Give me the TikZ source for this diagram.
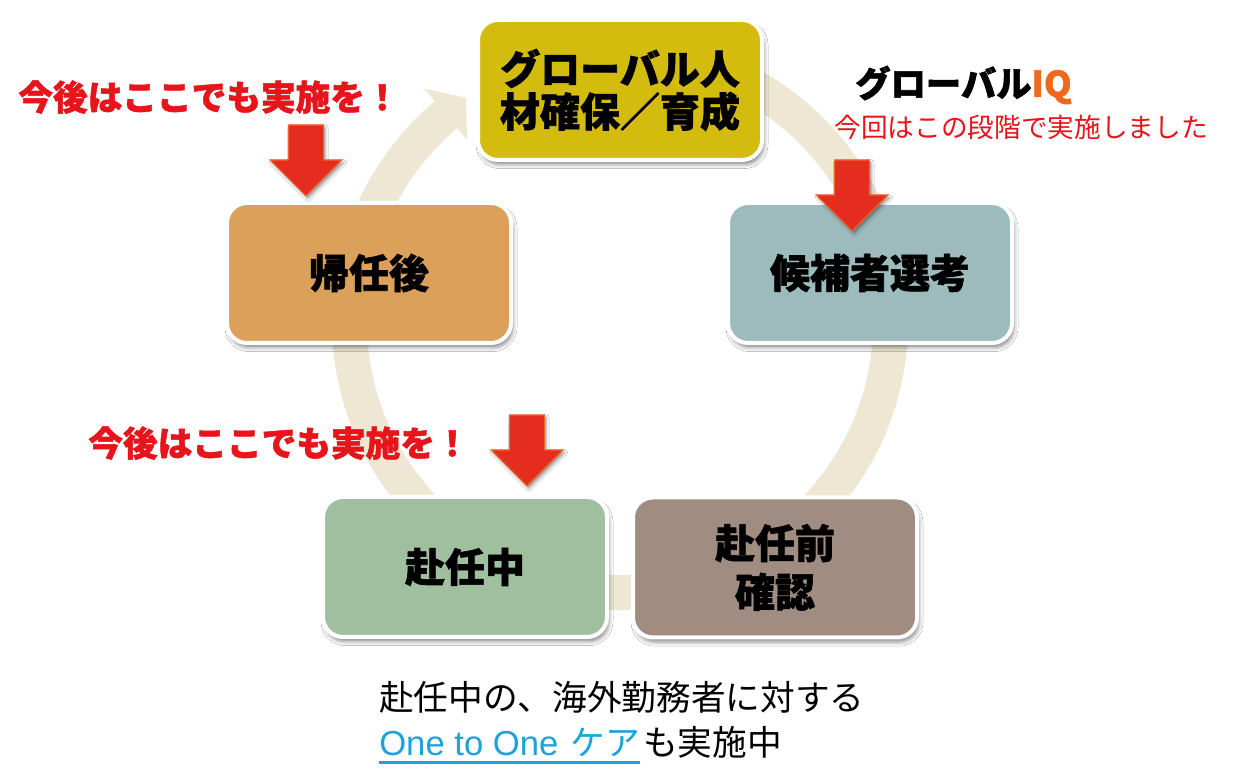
\documentclass[tikz,border=0pt]{standalone}
\usepackage{fontspec}
\setmainfont{Noto Sans CJK JP}[BoldFeatures={FakeBold=1.5}]
\newfontfamily\latinsans{Liberation Sans}
\usetikzlibrary{shadows.blur,calc}
\definecolor{ringc}{HTML}{EEE7D4}
\definecolor{topc}{HTML}{D4BC0E}
\definecolor{rightc}{HTML}{9DBABD}
\definecolor{leftc}{HTML}{DBA15B}
\definecolor{blc}{HTML}{A0BF9E}
\definecolor{brc}{HTML}{A08C81}
\definecolor{arrred}{HTML}{E42C1F}
\definecolor{arredge}{HTML}{F0642A}
\definecolor{txtred}{HTML}{E8141C}
\definecolor{iqorange}{HTML}{EE6A1A}
\definecolor{linkblue}{HTML}{1CA3DB}
\tikzset{
  stage/.style={draw=white, line width=3pt, rounded corners=15pt,
    minimum width=213pt, minimum height=105pt, align=center, inner sep=0pt,
    font=\bfseries\fontsize{30pt}{32pt}\selectfont,
    blur shadow={shadow xshift=1.5pt, shadow yshift=-3.5pt, shadow blur radius=3pt, shadow opacity=45}},
  redlabel/.style={text=txtred, font=\bfseries\fontsize{26pt}{28pt}\selectfont, inner sep=0pt},
  bodytext/.style={anchor=base west, inner sep=0pt, font=\fontsize{26pt}{30pt}\selectfont},
  downarrow/.pic={
    \path[fill=arrred, draw=arredge, line width=0.8pt,
      blur shadow={shadow xshift=1.5pt, shadow yshift=-2pt, shadow blur radius=2pt, shadow opacity=40}]
      (-17.5,0) -- (17.5,0) -- (17.5,-35) -- (36,-35) -- (0,-71) -- (-36,-35) -- (-17.5,-35) -- cycle;
  }
}
\begin{document}
\begin{tikzpicture}[x=0.75pt,y=0.75pt]
\fill[white] (0,0) rectangle (1241,780);
\useasboundingbox (0,0) rectangle (1241,780);
\coordinate (c) at (620,458);
% cycle ring with arrowhead
\draw[ringc, line width=26.25pt] ($(c)+(95:202.9pt)$) arc[start angle=95, end angle=-230, radius=202.9pt];
\fill[ringc] ($(c)+(130:178.5pt)$) -- ($(c)+(124.5:204pt)$) -- ($(c)+(130:228.75pt)$) -- cycle;
% stages
\node[stage, fill=topc, font=\bfseries\fontsize{30pt}{32pt}\selectfont] (top) at (620,690) {グローバル人\\材確保／育成};
\node[stage, fill=rightc] (select) at (870,507) {候補者選考};
\node[stage, fill=brc, font=\bfseries\fontsize{30pt}{36.5pt}\selectfont] (before) at (775,212.5) {赴任前\\確認};
\node[stage, fill=blc] (during) at (465,213) {赴任中};
\node[stage, fill=leftc] (after) at (369,507) {帰任後};
% red arrows
\pic (a1) at (306,655) {downarrow};
\pic (a2) at (852,620) {downarrow};
\pic (a3) at (527,365) {downarrow};
% labels
\node[redlabel] (later1) at (209,683) {今後はここでも実施を！};
\node[redlabel] (later2) at (279,337) {今後はここでも実施を！};
\node[anchor=west, inner sep=0pt, font=\bfseries\fontsize{26.5pt}{28pt}\selectfont] (giq) at (855,695) {グローバル\textcolor{iqorange}{IQ}};
\node[text=txtred, inner sep=0pt, font=\fontsize{20pt}{24pt}\selectfont] (done) at (1021,653) {今回はこの段階で実施しました};
\node[bodytext] (care1) at (379,69) {赴任中の、海外勤務者に対する};
\node[bodytext, text=linkblue] (link) at (379,24) {{\latinsans One to One}\hspace{9pt}ケア};
\node[bodytext] (rest) at (link.base east) {\hspace{2pt}も実施中};
\draw[linkblue, line width=2.2pt] ([yshift=-5pt]link.base west) -- ([yshift=-5pt]link.base east);
\end{tikzpicture}
\end{document}
